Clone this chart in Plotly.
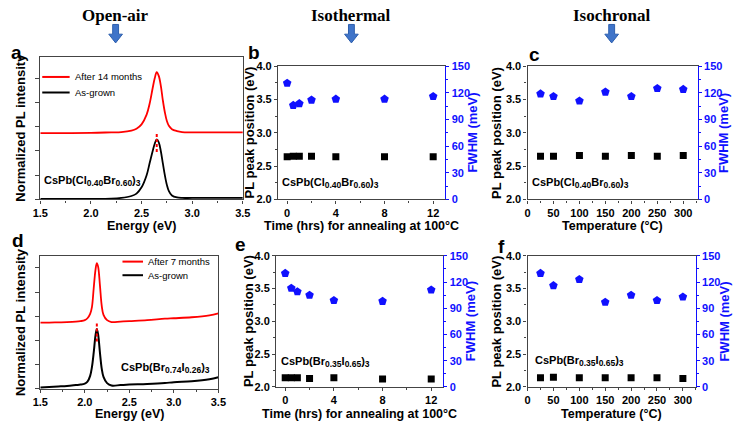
import plotly.graph_objects as go

W, H = 741, 427

# ---------------- data ----------------
# panel a: CsPb(Cl0.40Br0.60)3 spectra (normalized, offset)
a_energy = [1.5, 2.0, 2.2, 2.3, 2.4, 2.45, 2.5, 2.55, 2.58, 2.61, 2.63, 2.65, 2.67, 2.69, 2.71, 2.73, 2.75, 2.77, 2.8, 2.85, 2.9, 3.0, 3.5]
a_asgrown = [0.01, 0.01, 0.015, 0.03, 0.07, 0.12, 0.25, 0.5, 0.75, 1.0, 1.15, 1.24, 1.18, 1.0, 0.75, 0.5, 0.3, 0.17, 0.08, 0.04, 0.03, 0.03, 0.03]
a_after = [1.37, 1.375, 1.385, 1.39, 1.42, 1.46, 1.55, 1.75, 1.98, 2.3, 2.5, 2.63, 2.55, 2.35, 2.05, 1.8, 1.62, 1.52, 1.45, 1.41, 1.39, 1.385, 1.385]
a_peak_x = [2.65, 2.65]
a_peak_y = [0.98, 1.38]
a_names = ["After 14 months", "As-grown"]

# panel d: CsPb(Br0.74I0.26)3 spectra
d_energy = [1.5, 1.6, 1.7, 1.8, 1.9, 1.95, 2.0, 2.03, 2.06, 2.08, 2.10, 2.12, 2.135, 2.15, 2.17, 2.19, 2.21, 2.25, 2.3, 2.4, 2.5, 2.7, 2.9, 3.0, 3.2, 3.4, 3.5]
d_asgrown = [0.03, 0.04, 0.05, 0.06, 0.08, 0.09, 0.11, 0.15, 0.27, 0.45, 0.75, 1.1, 1.24, 1.12, 0.75, 0.42, 0.25, 0.12, 0.07, 0.08, 0.09, 0.1, 0.12, 0.14, 0.16, 0.2, 0.24]
d_after = [1.37, 1.37, 1.375, 1.38, 1.39, 1.4, 1.42, 1.46, 1.55, 1.69, 2.08, 2.46, 2.6, 2.52, 2.14, 1.72, 1.53, 1.42, 1.38, 1.39, 1.4, 1.42, 1.45, 1.46, 1.48, 1.52, 1.56]
d_peak_x = [2.135, 2.135]
d_peak_y = [0.98, 1.37]
d_names = ["After 7 months", "As-grown"]

# isothermal annealing at 100 C
time_hrs = [0, 0.5, 1, 2, 4, 8, 12]
b_peak = [2.64, 2.65, 2.65, 2.65, 2.64, 2.64, 2.64]
b_fwhm = [131, 106, 108, 112, 113, 113, 116]
e_peak = [2.14, 2.14, 2.14, 2.13, 2.14, 2.12, 2.12]
e_fwhm = [130, 113, 109, 105, 99, 98, 111]

# isochronal annealing
temp_c = [25, 50, 100, 150, 200, 250, 300]
c_peak = [2.65, 2.65, 2.66, 2.65, 2.66, 2.65, 2.66]
c_fwhm = [119, 116, 111, 121, 116, 125, 124]
f_peak = [2.14, 2.15, 2.14, 2.14, 2.14, 2.14, 2.13]
f_fwhm = [130, 116, 123, 97, 105, 99, 103]

def sub(t):
    return f"<sub><span style='font-size:8.5px'>{t}</span></sub>"

comp_cl = "CsPb(Cl" + sub("0.40") + "Br" + sub("0.60") + ")" + sub("3")
comp_br74 = "CsPb(Br" + sub("0.74") + "I" + sub("0.26") + ")" + sub("3")
comp_br35 = "CsPb(Br" + sub("0.35") + "I" + sub("0.65") + ")" + sub("3")

# ---------------- layout helpers ----------------
def fx(p):
    return p / W

def fy(p):
    return 1 - p / H

FONT = "Liberation Sans"
AX = "#444444"
BLUE = "#1010ff"

def tickfont(color="black", size=11):
    return dict(family=FONT, size=size, color=color, weight="bold")

fig = go.Figure()

# panel a
fig.add_trace(go.Scatter(x=a_energy, y=a_after, mode="lines", line=dict(color="red", width=1.8, shape="spline"),
                         name=a_names[0], showlegend=False, xaxis="x", yaxis="y"))
fig.add_trace(go.Scatter(x=a_energy, y=a_asgrown, mode="lines", line=dict(color="black", width=1.8, shape="spline"),
                         name=a_names[1], showlegend=False, xaxis="x", yaxis="y"))
fig.add_trace(go.Scatter(x=a_peak_x, y=a_peak_y, mode="lines", line=dict(color="red", width=2, dash="3px,2px"),
                         showlegend=False, xaxis="x", yaxis="y"))
# panel d
fig.add_trace(go.Scatter(x=d_energy, y=d_after, mode="lines", line=dict(color="red", width=1.8, shape="spline"),
                         name=d_names[0], showlegend=False, xaxis="x4", yaxis="y6"))
fig.add_trace(go.Scatter(x=d_energy, y=d_asgrown, mode="lines", line=dict(color="black", width=2, shape="spline"),
                         name=d_names[1], showlegend=False, xaxis="x4", yaxis="y6"))
fig.add_trace(go.Scatter(x=d_peak_x, y=d_peak_y, mode="lines", line=dict(color="red", width=2, dash="3px,2px"),
                         showlegend=False, xaxis="x4", yaxis="y6"))

sq = dict(symbol="square", size=7, color="black")
pent = dict(symbol="pentagon", size=9, color=BLUE)
for xs, pk, fw, xa, yl, yr in [
    (time_hrs, b_peak, b_fwhm, "x2", "y2", "y3"),
    (temp_c, c_peak, c_fwhm, "x3", "y4", "y5"),
    (time_hrs, e_peak, e_fwhm, "x5", "y7", "y8"),
    (temp_c, f_peak, f_fwhm, "x6", "y9", "y10"),
]:
    fig.add_trace(go.Scatter(x=xs, y=pk, mode="markers", marker=sq, showlegend=False, xaxis=xa, yaxis=yl))
    fig.add_trace(go.Scatter(x=xs, y=fw, mode="markers", marker=pent, showlegend=False, xaxis=xa, yaxis=yr))

dom = {
    "a": ([33, 240], [52, 199]),
    "b": ([276, 447], [62, 199]),
    "c": ([531, 705], [62, 199]),
    "d": ([33, 215], [257, 394]),
    "e": ([274, 445], [257, 392]),
    "f": ([531, 703], [257, 392]),
}

def xd(k):
    return [fx(dom[k][0][0]), fx(dom[k][0][1])]

def yd(k):
    return [fy(dom[k][1][1]), fy(dom[k][1][0])]

def xaxis(k, rng, dtick, minor, anchor, fmt=None):
    d = dict(domain=xd(k), range=rng, dtick=dtick, anchor=anchor,
             showline=True, linecolor=AX, linewidth=1.2, mirror=True,
             ticks="outside", ticklen=3, tickcolor=AX, tickwidth=1.2,
             minor=dict(dtick=minor, ticks="outside", ticklen=2, tickcolor=AX),
             showgrid=False, zeroline=False, tickfont=tickfont())
    if fmt:
        d["tickformat"] = fmt
    return d

def yleft(k, anchor):
    return dict(domain=yd(k), range=[2.0, 4.0], dtick=0.5, tickformat=".1f", anchor=anchor,
                showline=True, linecolor=AX, linewidth=1.2,
                ticks="outside", ticklen=3, tickcolor=AX, tickwidth=1.2,
                minor=dict(dtick=0.25, ticks="outside", ticklen=2, tickcolor=AX),
                showgrid=False, zeroline=False, tickfont=tickfont())

def yright(overlay, anchor):
    return dict(overlaying=overlay, anchor=anchor, side="right", range=[0, 150], dtick=30,
                showline=True, linecolor=BLUE, linewidth=1.2,
                ticks="outside", ticklen=3, tickcolor=BLUE, tickwidth=1.2,
                minor=dict(dtick=15, ticks="outside", ticklen=2, tickcolor=BLUE),
                showgrid=False, zeroline=False, tickfont=tickfont(BLUE))

def yspec(k, anchor, rng):
    return dict(domain=yd(k), range=rng, dtick=0.5, anchor=anchor,
                showline=True, linecolor=AX, linewidth=1.2, mirror=True,
                ticks="outside", ticklen=4, tickcolor=AX, tickwidth=1.2,
                showticklabels=False, showgrid=False, zeroline=False)

layout = dict(
    width=W, height=H, margin=dict(l=0, r=0, t=0, b=0),
    paper_bgcolor="white", plot_bgcolor="white", showlegend=False,
    xaxis=xaxis("a", [1.5, 3.5], 0.5, 0.25, "y", ".1f"),
    yaxis=yspec("a", "x", [0, 2.95]),
    xaxis2=xaxis("b", [-0.75, 13], 4, 2, "y2"),
    yaxis2=yleft("b", "x2"),
    yaxis3=yright("y2", "x2"),
    xaxis3=xaxis("c", [0, 328], 50, 25, "y4"),
    yaxis4=yleft("c", "x3"),
    yaxis5=yright("y4", "x3"),
    xaxis4=xaxis("d", [1.5, 3.5], 0.5, 0.25, "y6", ".1f"),
    yaxis6=yspec("d", "x4", [0, 2.75]),
    xaxis5=xaxis("e", [-0.75, 13], 4, 2, "y7"),
    yaxis7=yleft("e", "x5"),
    yaxis8=yright("y7", "x5"),
    xaxis6=xaxis("f", [0, 325], 50, 25, "y9"),
    yaxis9=yleft("f", "x6"),
    yaxis10=yright("y9", "x6"),
)
fig.update_layout(**layout)

def ann(text, x, y, size=13, color="black", angle=0, xanchor="center", family=FONT, weight="bold"):
    fig.add_annotation(text=text, xref="paper", yref="paper", x=fx(x), y=fy(y), xanchor=xanchor, yanchor="middle",
                       textangle=angle, showarrow=False,
                       font=dict(family=family, size=size, color=color, weight=weight))

# legends for the spectra panels (key line + label)
for names, x0, x1, xt, rows in [(a_names, 35, 63, 66, [73, 89]), (d_names, 117, 138, 141, [263, 277])]:
    for name, col, yy in zip(names, ["red", "black"], rows):
        fig.add_shape(type="line", xref="paper", yref="paper", x0=fx(x0), x1=fx(x1), y0=fy(yy), y1=fy(yy),
                      line=dict(color=col, width=2))
        ann(name, xt, yy, size=9.5, xanchor="left", weight="normal")

# axis titles
time_title = "Time (hrs) for annealing at 100°C"
temp_title = "Temperature (°C)"
for k, t, yy in [("a", "Energy (eV)", 226), ("b", time_title, 226), ("c", temp_title, 226),
                 ("d", "Energy (eV)", 420), ("e", time_title, 420), ("f", temp_title, 420)]:
    ann(t, (dom[k][0][0] + dom[k][0][1]) / 2, yy, size=12.5)
for k, xx in [("a", 13), ("d", 13)]:
    ann("Normalized PL intensity", xx, (dom[k][1][0] + dom[k][1][1]) / 2, angle=-90)
for k, xl, xr in [("b", 247, 475), ("c", 500, 732), ("e", 246, 473), ("f", 499, 732)]:
    ym = (dom[k][1][0] + dom[k][1][1]) / 2
    ann("PL peak position (eV)", xl, ym, angle=-90)
    ann("FWHM (meV)", xr, ym, angle=-90, color=BLUE)

# compound labels
def comp(text, xref, yref, x, y, xanchor="left"):
    fig.add_annotation(text=text, xref=xref, yref=yref, x=x, y=y, xanchor=xanchor, yanchor="middle",
                       showarrow=False, font=dict(family=FONT, size=11, color="black", weight="bold"))

comp(comp_cl, "x domain", "y domain", 0.008, 0.13)
comp(comp_cl, "x2 domain", "y2 domain", 0.012, 0.12)
comp(comp_cl, "x3 domain", "y4 domain", 0.015, 0.12)
comp(comp_br74, "x4 domain", "y6 domain", 0.965, 0.16, xanchor="right")
comp(comp_br35, "x5 domain", "y7 domain", 0.015, 0.19)
comp(comp_br35, "x6 domain", "y9 domain", 0.03, 0.2)

# panel letters
for letter, px, py in [("a", 9, 48), ("b", 251, 48), ("c", 538, 50), ("d", 10, 241), ("e", 238, 245), ("f", 504, 247)]:
    ann(letter, px, py, size=19)

# column headers and arrows
for label, cx in [("Open-air", 110), ("Isothermal", 351), ("Isochronal", 617)]:
    ann(label, cx, 10, size=17, family="Liberation Serif")
    pts = [(cx - 3, 19), (cx + 3, 19), (cx + 3, 29), (cx + 7, 29), (cx, 38), (cx - 7, 29), (cx - 3, 29)]
    path = "M " + " L ".join(f"{fx(x):.5f},{fy(y):.5f}" for x, y in pts) + " Z"
    fig.add_shape(type="path", path=path, xref="paper", yref="paper",
                  fillcolor="#3f74c9", line=dict(color="#2d5fae", width=1))

fig.write_html("out.html", config={"displayModeBar": False},
               post_script="document.body.style.margin='0';document.body.style.overflow='hidden';")
